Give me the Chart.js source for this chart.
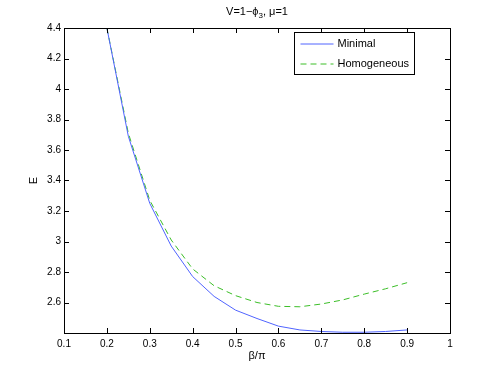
<!DOCTYPE html>
<html><head><meta charset="utf-8">
<script src="https://cdn.jsdelivr.net/npm/chart.js@4"></script>
<style>html,body{margin:0;padding:0;background:#fff}#wrap{width:498px;height:375px}</style>
</head><body><div id="wrap"><canvas id="c" width="498" height="375"></canvas></div>
<script>
const betaOverPi = [0.2, 0.25, 0.3, 0.35, 0.4, 0.45, 0.5, 0.55, 0.6, 0.65, 0.7, 0.75, 0.8, 0.85, 0.9];
const minimalE = [4.40, 3.69, 3.25, 2.97, 2.77, 2.64, 2.55, 2.495, 2.445, 2.42, 2.41, 2.405, 2.405, 2.41, 2.42];
const homogeneousE = [4.40, 3.71, 3.27, 3.01, 2.82, 2.71, 2.645, 2.60, 2.575, 2.572, 2.59, 2.617, 2.655, 2.69, 2.73];
const seriesNames = ['Minimal', 'Homogeneous'];
const titleText = ['V=1\u2212\u03d5', '3', ', \u03bc=1'];
const xTitle = '\u03b2/\u03c0';
const yTitle = 'E';
const FONT = '"Liberation Sans", Arial, sans-serif';

const matlabAxes = {
  id: 'matlabAxes',
  afterDatasetsDraw(chart) {
    const ctx = chart.ctx, a = chart.chartArea;
    const xs = chart.scales.x, ys = chart.scales.y;
    ctx.save();
    ctx.strokeStyle = '#000'; ctx.lineWidth = 1;
    ctx.beginPath();
    const L = 5;
    xs.ticks.forEach(t => {
      const px = Math.round(xs.getPixelForValue(t.value)) + 0.5;
      ctx.moveTo(px, a.bottom); ctx.lineTo(px, a.bottom - L);
      ctx.moveTo(px, a.top); ctx.lineTo(px, a.top + L);
    });
    ys.ticks.forEach(t => {
      const py = Math.round(ys.getPixelForValue(t.value)) + 0.5;
      ctx.moveTo(a.left, py); ctx.lineTo(a.left + L, py);
      ctx.moveTo(a.right, py); ctx.lineTo(a.right - L, py);
    });
    ctx.stroke();
    ctx.strokeRect(Math.round(a.left) + 0.5, Math.round(a.top) + 0.5, Math.round(a.right - a.left), Math.round(a.bottom - a.top));
    // title with subscript
    ctx.fillStyle = '#000';
    ctx.textBaseline = 'alphabetic';
    const f1 = '11px ' + FONT, f2 = '8px ' + FONT;
    ctx.font = f1; const w1 = ctx.measureText(titleText[0]).width, w3 = ctx.measureText(titleText[2]).width;
    ctx.font = f2; const w2 = ctx.measureText(titleText[1]).width;
    let x = (a.left + a.right) / 2 - (w1 + w2 + w3) / 2, y = 15;
    ctx.font = f1; ctx.textAlign = 'left'; ctx.fillText(titleText[0], x, y); x += w1;
    ctx.font = f2; ctx.fillText(titleText[1], x, y + 3); x += w2;
    ctx.font = f1; ctx.fillText(titleText[2], x, y);
    // axis titles
    ctx.font = '11px ' + FONT; ctx.textAlign = 'center'; ctx.textBaseline = 'middle';
    ctx.fillText(xTitle, (a.left + a.right) / 2, a.bottom + 23);
    ctx.save(); ctx.translate(a.left - 30, (a.top + a.bottom) / 2); ctx.rotate(-Math.PI / 2);
    ctx.fillText(yTitle, 0, 0); ctx.restore();
    // legend
    const lx = 294.5, ly = 32.5, lw = 120, lh = 42;
    ctx.fillStyle = '#fff'; ctx.fillRect(lx, ly, lw, lh);
    ctx.strokeStyle = '#000'; ctx.strokeRect(lx, ly, lw, lh);
    ctx.font = '11px ' + FONT; ctx.textBaseline = 'middle'; ctx.textAlign = 'left';
    chart.data.datasets.forEach((ds, i) => {
      const yy = ly + 11.5 + i * 20;
      ctx.strokeStyle = ds.borderColor; ctx.lineWidth = 1;
      ctx.setLineDash(ds.borderDash || []);
      ctx.beginPath(); ctx.moveTo(lx + 6, yy); ctx.lineTo(lx + 39, yy); ctx.stroke();
      ctx.setLineDash([]);
      ctx.fillStyle = '#000'; ctx.fillText(ds.label, lx + 43, yy);
    });
    ctx.restore();
  }
};

new Chart(document.getElementById('c'), {
  type: 'line',
  data: {
    datasets: [
      { label: seriesNames[0], data: betaOverPi.map((x, i) => ({x, y: minimalE[i]})), borderColor: 'rgb(80,100,255)', borderWidth: 1, pointRadius: 0, tension: 0, fill: false },
      { label: seriesNames[1], data: betaOverPi.map((x, i) => ({x, y: homogeneousE[i]})), borderColor: 'rgb(60,190,40)', borderWidth: 1, borderDash: [6, 4], pointRadius: 0, tension: 0, fill: false }
    ]
  },
  options: {
    responsive: false, animation: false,
    layout: { padding: { top: 28, right: 48, left: 0, bottom: 0 } },
    plugins: { legend: { display: false }, title: { display: false }, tooltip: { enabled: false } },
    scales: {
      x: {
        type: 'linear', min: 0.1, max: 1,
        afterFit(s) { s.height = 42; },
        grid: { display: false, drawTicks: false },
        border: { display: false },
        ticks: { stepSize: 0.1, padding: 5, color: '#000', font: { family: FONT, size: 10 }, maxRotation: 0,
          callback: v => Math.abs(v - 1) < 1e-9 ? '1' : v.toFixed(1) },
        title: { display: false }
      },
      y: {
        type: 'linear', min: 2.4, max: 4.4,
        afterFit(s) { s.width = 64; },
        grid: { display: false, drawTicks: false },
        border: { display: false },
        ticks: { stepSize: 0.2, padding: 3, color: '#000', font: { family: FONT, size: 10 },
          callback: v => Math.abs(v - 2.4) < 1e-9 ? '' : (Math.abs(v - 3) < 1e-9 ? '3' : Math.abs(v - 4) < 1e-9 ? '4' : v.toFixed(1)) },
        title: { display: false }
      }
    }
  },
  plugins: [matlabAxes]
});
</script>
</body></html>
